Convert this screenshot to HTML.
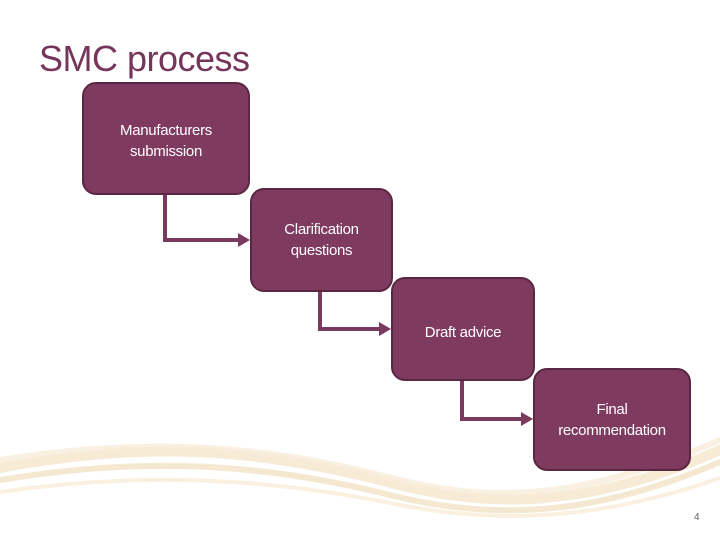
<!DOCTYPE html>
<html><head><meta charset="utf-8"><style>
body{margin:0;width:720px;height:540px;background:#fff;position:relative;overflow:hidden;font-family:"Liberation Sans",sans-serif}
.t{position:absolute;left:39px;top:38px;font-size:36px;color:#76355a;letter-spacing:-0.5px}
.b{position:absolute;background:#7f3a60;border:2px solid #5a2742;border-radius:14px;box-sizing:border-box;color:#fff;font-size:15px;letter-spacing:-0.3px;text-align:center;display:flex;align-items:center;justify-content:center;line-height:21px}
</style></head><body>
<svg width="720" height="540" style="position:absolute;left:0;top:0">
<g fill="none" stroke-linecap="round">
<path d="M0 468 C150 440 260 450 380 480 C480 508 580 512 720 450" stroke="#f3e2c4" stroke-width="10" opacity="0.7"/>
<path d="M0 480 C150 455 270 465 390 495 C490 520 590 518 720 462" stroke="#efd8b0" stroke-width="6" opacity="0.6"/>
<path d="M0 460 C160 435 270 448 380 475 C480 502 570 505 720 440" stroke="#f7ecd9" stroke-width="6" opacity="0.8"/>
<path d="M0 492 C150 470 280 480 400 505 C500 524 600 520 720 478" stroke="#f5e6cc" stroke-width="4" opacity="0.6"/>
</g>
<g fill="none" stroke="#7a3a5e" stroke-width="4">
<path d="M165 195 V240 H244"/><path d="M320 291 V329 H385"/><path d="M462 380 V419 H527"/>
</g>
<g fill="#7a3a5e">
<path d="M250 240 L238 233 L238 247Z"/><path d="M391 329 L379 322 L379 336Z"/><path d="M533 419 L521 412 L521 426Z"/>
</g>
</svg>
<div class="t">SMC process</div>
<div class="b" style="left:82px;top:82px;width:168px;height:113px;padding-top:4px">Manufacturers<br>submission</div>
<div class="b" style="left:250px;top:188px;width:143px;height:104px">Clarification<br>questions</div>
<div class="b" style="left:391px;top:277px;width:144px;height:104px;padding-top:6px">Draft advice</div>
<div class="b" style="left:533px;top:368px;width:158px;height:103px">Final<br>recommendation</div>
<div style="position:absolute;left:694px;top:512px;font-size:10px;color:#666">4</div>
</body></html>
